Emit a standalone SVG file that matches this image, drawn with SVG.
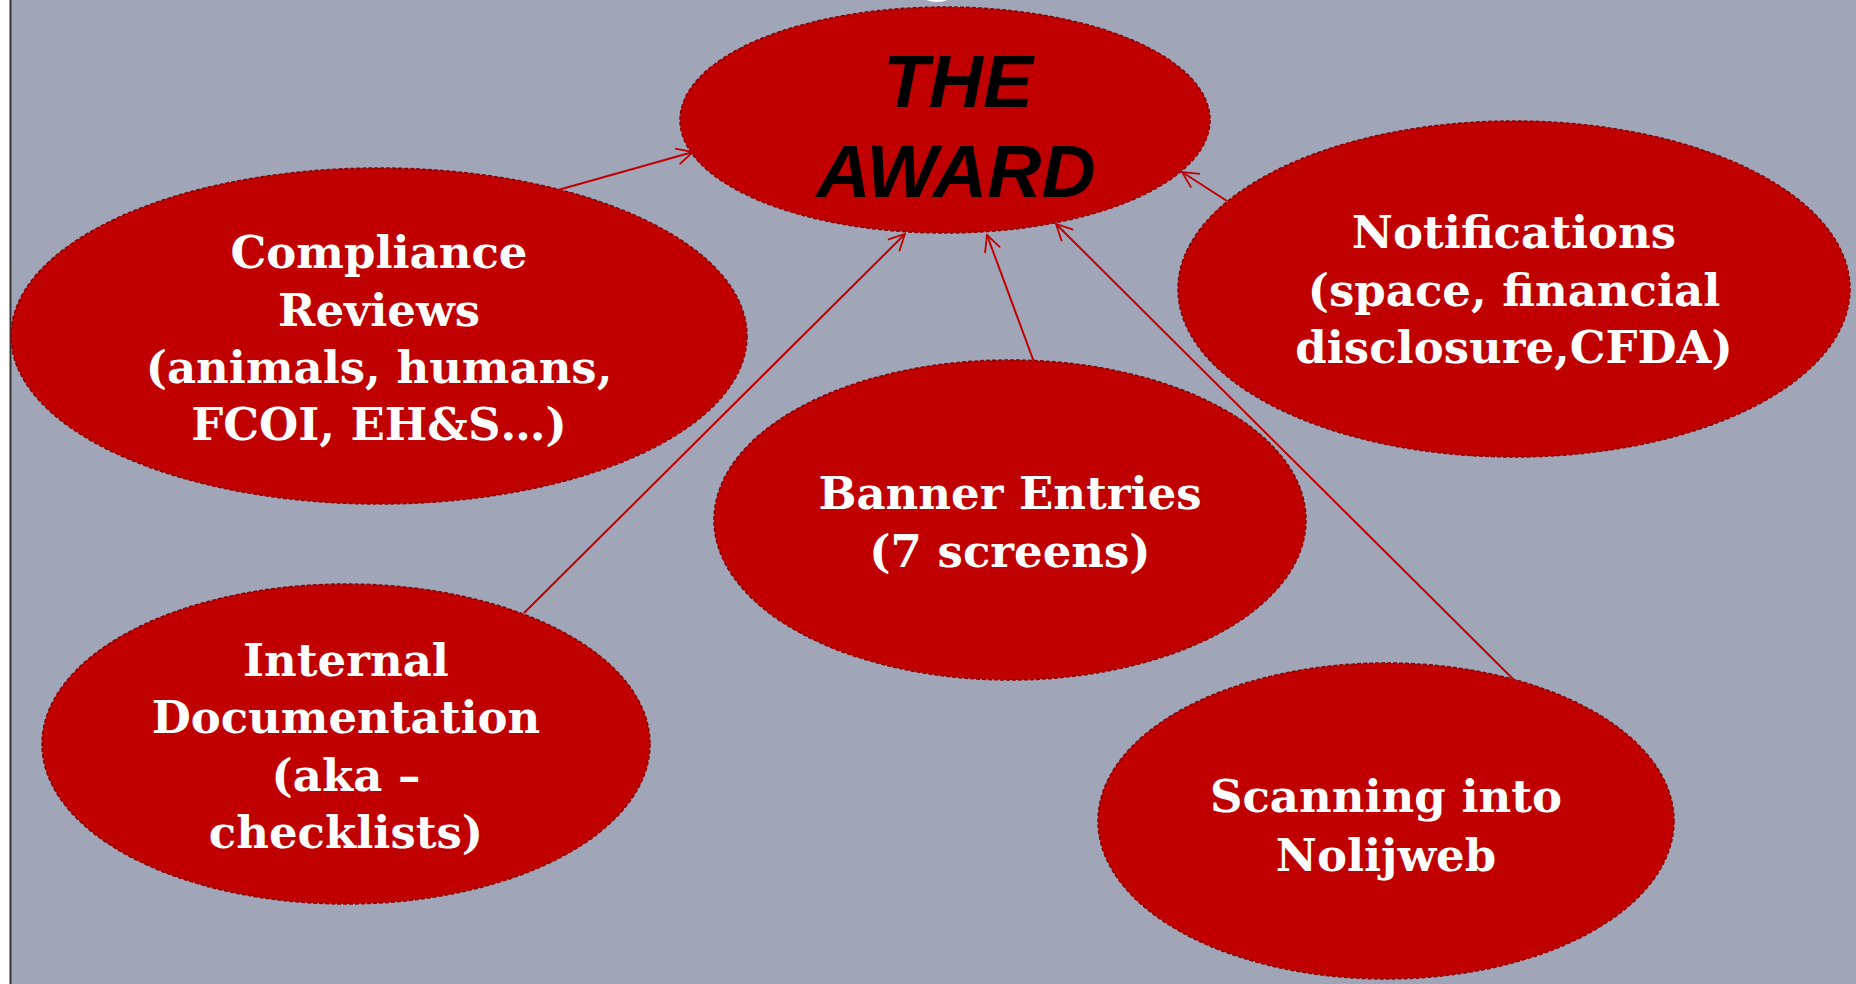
<svg xmlns="http://www.w3.org/2000/svg" width="1856" height="984" viewBox="0 0 1856 984">
<style>
.node ellipse{fill:#C00000;stroke:#8A0000;stroke-width:1.5;stroke-dasharray:4 2}
.lbl{font-family:"DejaVu Serif","Liberation Serif",serif;font-weight:bold;font-size:45px;fill:#FFFFFF;text-anchor:middle}
.award{font-family:"Liberation Sans",Arial,sans-serif;font-weight:bold;font-style:italic;font-size:75px;fill:#000000;text-anchor:middle}
.conn line{stroke:#C00000;stroke-width:2;fill:none}
</style>
<defs>
<marker id="arr" viewBox="0 0 20 20" refX="19" refY="10" markerWidth="18" markerHeight="18" markerUnits="userSpaceOnUse" orient="auto">
<path d="M1,1 L19,10 L1,19" fill="none" stroke="#C00000" stroke-width="2"/>
</marker>
</defs>
<rect x="0" y="0" width="1856" height="984" fill="#FFFFFF"/>
<rect x="10" y="0" width="1846" height="984" fill="#A0A6B8"/>
<line x1="10.5" y1="0" x2="10.5" y2="984" stroke="#333333" stroke-width="2"/>
<ellipse cx="937" cy="-4" rx="14" ry="6" fill="#FFFFFF"/>

<g id="award" class="node">
<ellipse cx="945" cy="120" rx="265" ry="113"/>
<text class="award" x="958" y="107">THE</text>
<text class="award" x="956" y="197">AWARD</text>
</g>

<g id="compliance" class="node">
<ellipse cx="379" cy="336" rx="368" ry="168"/>
<text class="lbl" x="379" y="268">Compliance</text>
<text class="lbl" x="379" y="326">Reviews</text>
<text class="lbl" x="379" y="383">(animals, humans,</text>
<text class="lbl" x="379" y="440">FCOI, EH&amp;S…)</text>
</g>

<g id="notifications" class="node">
<ellipse cx="1514" cy="289" rx="336" ry="168"/>
<text class="lbl" x="1514" y="248">Notifications</text>
<text class="lbl" x="1514" y="306">(space, financial</text>
<text class="lbl" x="1514" y="363">disclosure,CFDA)</text>
</g>

<g id="banner" class="node">
<ellipse cx="1010" cy="520" rx="296" ry="160"/>
<text class="lbl" x="1010" y="509">Banner Entries</text>
<text class="lbl" x="1010" y="567">(7 screens)</text>
</g>

<g id="internal" class="node">
<ellipse cx="346" cy="744" rx="304" ry="160"/>
<text class="lbl" x="346" y="676">Internal</text>
<text class="lbl" x="346" y="733">Documentation</text>
<text class="lbl" x="346" y="791">(aka –</text>
<text class="lbl" x="346" y="848">checklists)</text>
</g>

<g id="scanning" class="node">
<ellipse cx="1386" cy="821" rx="288" ry="158"/>
<text class="lbl" x="1386" y="812">Scanning into</text>
<text class="lbl" x="1386" y="871">Nolijweb</text>
</g>

<g id="connectors" class="conn">
<line x1="558" y1="190" x2="693" y2="152" marker-end="url(#arr)"/>
<line x1="524" y1="613" x2="905" y2="234" marker-end="url(#arr)"/>
<line x1="1034" y1="362" x2="987" y2="235" marker-end="url(#arr)"/>
<line x1="1514" y1="680" x2="1056" y2="224" marker-end="url(#arr)"/>
<line x1="1227" y1="201" x2="1182" y2="172" marker-end="url(#arr)"/>
</g>
</svg>
